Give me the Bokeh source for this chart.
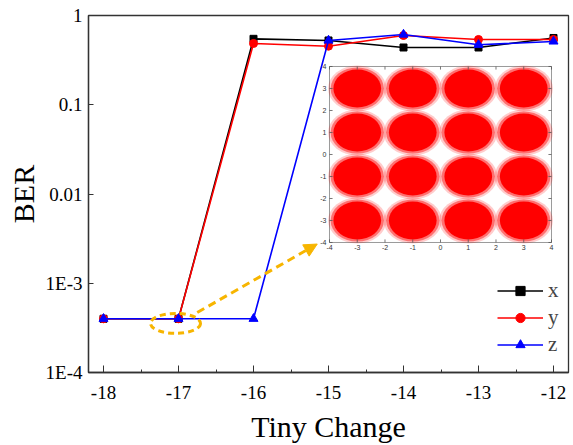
from bokeh.plotting import figure
from bokeh.models import (Range1d, LinearScale, FixedTicker, Legend, LegendItem,
                          Arrow, NormalHead)
from bokeh.core.properties import value
from bokeh.embed import file_html
from bokeh.resources import INLINE

# ---------------- data ----------------
tiny_change = [-18, -17, -16, -15, -14, -13, -12]
ber_x = [4e-4, 4e-4, 0.548, 0.525, 0.438, 0.438, 0.56]
ber_y = [4e-4, 4e-4, 0.486, 0.453, 0.597, 0.539, 0.539]
ber_z = [4e-4, 4e-4, 4e-4, 0.525, 0.612, 0.47, 0.512]

x_major = [-18, -17, -16, -15, -14, -13, -12]
x_labels = ["-18", "-17", "-16", "-15", "-14", "-13", "-12"]
x_minor = [-17.5, -16.5, -15.5, -14.5, -13.5, -12.5]
y_major = [1e-4, 1e-3, 0.01, 0.1, 1]
y_labels = ["1E-4", "1E-3", "0.01", "0.1", "1"]

x_title = "Tiny Change"
y_title = "BER"

# inset: 16-QAM constellation cluster centres
qam_i = [-3, -1, 1, 3]
qam_q = [3, 1, -1, -3]
inset_ticks = [-4, -3, -2, -1, 0, 1, 2, 3, 4]

# highlight (ellipse at x=-17 point) and arrow to inset
hl_x, hl_y = -17.04, 3.55e-4
arrow_from = (-16.75, 4.7e-4)
arrow_to = (-15.15, 2.75e-3)

SERIF = "Liberation Serif"
ORANGE = "#F7B500"

p = figure(width=573, height=445, y_axis_type="log",
           x_range=Range1d(-18.2, -11.8), y_range=Range1d(1e-4, 1),
           output_backend="svg", toolbar_location=None,
           min_border_left=88, min_border_right=5, min_border_top=15,
           min_border_bottom=73)
p.background_fill_color = "white"
p.border_fill_color = "white"
p.outline_line_color = "#333333"
p.outline_line_width = 1.3
p.xgrid.visible = False
p.ygrid.visible = False

# extra linear ranges for the inset (constellation) coordinates
p.extra_x_ranges = {"ix": Range1d(-12.685, 4.613)}
p.extra_y_ranges = {"iy": Range1d(-9.909, 6.318)}
p.extra_x_scales = {"ix": LinearScale()}
p.extra_y_scales = {"iy": LinearScale()}

# ---------- axes ----------
xa = p.xaxis[0]
xa.ticker = FixedTicker(ticks=x_major, minor_ticks=x_minor)
xa.major_label_overrides = {v: s for v, s in zip(x_major, x_labels)}
xa.axis_label = x_title
ya = p.yaxis[0]
ya.ticker = FixedTicker(ticks=y_major)
ya.major_label_overrides = {v: s for v, s in zip(y_major, y_labels)}
ya.axis_label = y_title
for ax in (xa, ya):
    ax.axis_line_color = "#333333"
    ax.axis_line_width = 1.3
    ax.major_tick_line_color = "#333333"
    ax.minor_tick_line_color = "#333333"
    ax.major_tick_out = 0
    ax.minor_tick_out = 0
    ax.major_label_text_font = SERIF
    ax.major_label_text_font_size = "19px"
    ax.major_label_text_color = "black"
    ax.axis_label_text_font = SERIF
    ax.axis_label_text_font_size = "30px"
    ax.axis_label_text_font_style = "normal"
    ax.axis_label_text_color = "black"
xa.major_tick_in = 7
xa.minor_tick_in = 3
xa.major_label_standoff = 13
xa.axis_label_standoff = 8
ya.major_tick_in = 5
ya.minor_tick_in = 0
ya.major_label_standoff = 6
ya.axis_label_standoff = 3

# ---------- inset ----------
ik = dict(x_range_name="ix", y_range_name="iy")
p.rect(x=[0], y=[0], width=[8], height=[8], fill_color="white",
       line_color="#9a9a9a", line_width=1, **ik)
cx = [i for q in qam_q for i in qam_i]
cy = [q for q in qam_q for i in qam_i]
for w, a in [(2.1, 0.2), (1.92, 0.45), (1.72, 1.0)]:
    p.ellipse(x=cx, y=cy, width=w, height=w, fill_color="#ff0000",
              fill_alpha=a, line_color=None, **ik)
n = len(inset_ticks)
p.segment(x0=inset_ticks, y0=[-4] * n, x1=inset_ticks, y1=[-3.86] * n,
          line_color="#555", line_width=0.8, **ik)
p.segment(x0=inset_ticks, y0=[4] * n, x1=inset_ticks, y1=[3.86] * n,
          line_color="#555", line_width=0.8, **ik)
p.segment(x0=[-4] * n, y0=inset_ticks, x1=[-3.89] * n, y1=inset_ticks,
          line_color="#555", line_width=0.8, **ik)
p.segment(x0=[4] * n, y0=inset_ticks, x1=[3.89] * n, y1=inset_ticks,
          line_color="#555", line_width=0.8, **ik)
p.text(x=inset_ticks, y=[-4] * n, text=[str(t) for t in inset_ticks],
       y_offset=3, text_align="center", text_baseline="top",
       text_font=value("Liberation Sans"), text_font_size="7px",
       text_color="#333", **ik)
p.text(x=[-4] * n, y=inset_ticks, text=[str(t) for t in inset_ticks],
       x_offset=-3, text_align="right", text_baseline="middle",
       text_font=value("Liberation Sans"), text_font_size="7px",
       text_color="#333", **ik)

# ---------- series ----------
lx = p.line(tiny_change, ber_x, line_color="black", line_width=1.6)
sx = p.scatter(tiny_change, ber_x, marker="square", size=7,
               fill_color="black", line_color="black")
ly = p.line(tiny_change, ber_y, line_color="#ff0000", line_width=1.6)
sy = p.scatter(tiny_change, ber_y, marker="circle", size=8,
               fill_color="#ff0000", line_color="#ff0000")
lz = p.line(tiny_change, ber_z, line_color="#0000ff", line_width=1.6)
sz = p.scatter(tiny_change, ber_z, marker="triangle", size=9,
               fill_color="#0000ff", line_color="#0000ff")

# ---------- highlight & arrow ----------
p.ellipse(x=[hl_x], y=[hl_y], width=50, height=20, width_units="screen",
          height_units="screen", fill_color=None, line_color=ORANGE,
          line_width=3, line_dash="6 4")
p.add_layout(Arrow(x_start=arrow_from[0], y_start=arrow_from[1],
                   x_end=arrow_to[0], y_end=arrow_to[1],
                   line_color=ORANGE, line_width=3, line_dash="8 5",
                   end=NormalHead(size=13, fill_color=ORANGE,
                                  line_color=ORANGE)))

# ---------- legend ----------
legend = Legend(items=[LegendItem(label="x", renderers=[lx, sx]),
                       LegendItem(label="y", renderers=[ly, sy]),
                       LegendItem(label="z", renderers=[lz, sz])],
                location=(409, 15))
legend.background_fill_alpha = 0
legend.border_line_color = None
legend.label_text_font = SERIF
legend.label_text_font_size = "21px"
legend.glyph_width = 46
legend.glyph_height = 23
legend.label_height = 23
legend.label_width = 10
legend.spacing = 2
legend.label_standoff = 5
legend.margin = 0
legend.padding = 2
p.add_layout(legend)

open("out.html", "w").write(file_html(p, INLINE))
